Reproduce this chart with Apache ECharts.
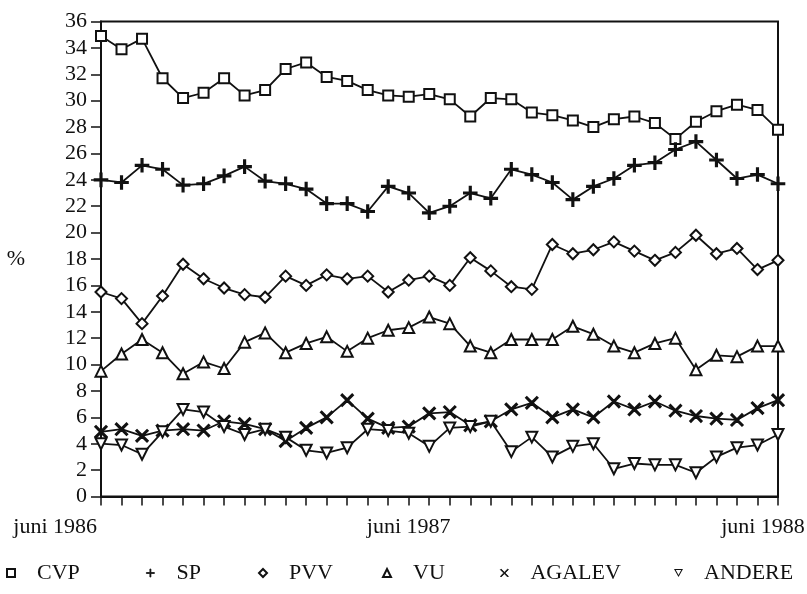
<!DOCTYPE html>
<html>
<head>
<meta charset="utf-8">
<script src="https://cdn.jsdelivr.net/npm/echarts@6/dist/echarts.min.js"></script>
<style>
  html, body { margin: 0; padding: 0; background: #fff; }
  #chart { width: 807px; height: 594px; }
</style>
</head>
<body>
<div id="chart"></div>
<script>
// peilingen juni 1986 - juni 1988 (34 metingen)
const labelIndex = [0, 15, 33];
const labelText = ['juni 1986', 'juni 1987', 'juni 1988'];

const seriesNames = ['CVP', 'SP', 'PVV', 'VU', 'AGALEV', 'ANDERE'];

const cvp = [34.9, 33.9, 34.7, 31.7, 30.2, 30.6, 31.7, 30.4, 30.8, 32.4, 32.9, 31.8,
  31.5, 30.8, 30.4, 30.3, 30.5, 30.1, 28.8, 30.2, 30.1, 29.1, 28.9, 28.5,
  28.0, 28.6, 28.8, 28.3, 27.1, 28.4, 29.2, 29.7, 29.3, 27.8];
const sp = [24.0, 23.8, 25.1, 24.8, 23.6, 23.7, 24.3, 25.0, 23.9, 23.7, 23.3, 22.2,
  22.2, 21.6, 23.5, 23.0, 21.5, 22.0, 23.0, 22.6, 24.8, 24.4, 23.8, 22.5,
  23.5, 24.1, 25.1, 25.3, 26.3, 26.9, 25.5, 24.1, 24.4, 23.7];
const pvv = [15.5, 15.0, 13.1, 15.2, 17.6, 16.5, 15.8, 15.3, 15.1, 16.7, 16.0, 16.8,
  16.5, 16.7, 15.5, 16.4, 16.7, 16.0, 18.1, 17.1, 15.9, 15.7, 19.1, 18.4,
  18.7, 19.3, 18.6, 17.9, 18.5, 19.8, 18.4, 18.8, 17.2, 17.9];
const vu = [9.5, 10.8, 11.9, 10.9, 9.3, 10.2, 9.7, 11.7, 12.4, 10.9, 11.6, 12.1,
  11.0, 12.0, 12.6, 12.8, 13.6, 13.1, 11.4, 10.9, 11.9, 11.9, 11.9, 12.9,
  12.3, 11.4, 10.9, 11.6, 12.0, 9.6, 10.7, 10.6, 11.4, 11.4];
const agalev = [4.9, 5.1, 4.6, 5.0, 5.1, 5.0, 5.7, 5.5, 5.1, 4.2, 5.2, 6.0,
  7.3, 5.9, 5.2, 5.3, 6.3, 6.4, 5.4, 5.7, 6.6, 7.1, 6.0, 6.6,
  6.0, 7.2, 6.6, 7.2, 6.5, 6.1, 5.9, 5.8, 6.7, 7.3];
const andere = [4.0, 3.9, 3.2, 4.9, 6.6, 6.4, 5.3, 4.7, 5.1, 4.5, 3.5, 3.3,
  3.7, 5.1, 5.0, 4.8, 3.8, 5.2, 5.3, 5.7, 3.4, 4.5, 3.0, 3.8,
  4.0, 2.1, 2.5, 2.4, 2.4, 1.8, 3.0, 3.7, 3.9, 4.7];

const values = [cvp, sp, pvv, vu, agalev, andere];

// symbolen (plus en kruis als dunne paden)
const plusPath = 'path://M4.4,0H5.6V4.4H10V5.6H5.6V10H4.4V5.6H0V4.4H4.4Z';
const crossPath = 'path://M0,0.85L0.85,0L5,4.15L9.15,0L10,0.85L5.85,5L10,9.15L9.15,10L5,5.85L0.85,10L0,9.15L4.15,5Z';
// holle omgekeerde driehoek voor de legende
const downTriPath = 'path://M0,0L10,0L5,9Z M2,1.3L5,6.7L8,1.3Z';
const symbols = ['emptyRect', plusPath, 'emptyDiamond', 'emptyTriangle', crossPath, 'emptyTriangle'];
const legendIcons = ['emptyRect', plusPath, 'emptyDiamond', 'emptyTriangle', crossPath, downTriPath];
const legendBorder = [1.5, 0.8, 1.5, 1.5, 0.8, 0];
const symbolSizes = [10, 13, 11, 11, 12, 11];
const symbolRotates = [0, 0, 0, 0, 0, 180];
const legendLeft = [6, 146, 258, 382, 500, 674];

const fontFamily = 'Liberation Serif';
const ink = '#111';

// categorie-as: alleen drie labels
const categories = cvp.map(function (v, i) {
  const k = labelIndex.indexOf(i);
  if (k < 0) return '';
  const item = { value: labelText[k] };
  if (i === 0) item.textStyle = { align: 'right', padding: [0, 4, 0, 0] };
  if (i === cvp.length - 1) item.textStyle = { align: 'center', padding: [0, 30, 0, 0] };
  return item;
});

const chart = echarts.init(document.getElementById('chart'));

chart.setOption({
  animation: false,
  backgroundColor: '#fff',
  grid: {
    left: 101,
    right: 29,
    top: 21.5,
    bottom: 97.5,
    show: true,
    borderColor: ink,
    borderWidth: 2,
    containLabel: false,
    outerBoundsMode: 'none'
  },
  legend: seriesNames.map(function (name, i) {
    return {
      data: [{ name: name, icon: legendIcons[i] }],
      left: legendLeft[i],
      top: 562,
      itemWidth: i === 5 ? 9 : 8,
      itemHeight: i === 5 ? 9 : 8,
      selectedMode: false,
      padding: 0,
      itemStyle: { color: ink, borderColor: ink, borderWidth: legendBorder[i] },
      textStyle: {
        fontFamily: fontFamily,
        fontSize: 22,
        color: ink,
        padding: [0, 0, 0, i === 5 ? 16 : 17]
      }
    };
  }),
  xAxis: {
    type: 'category',
    data: categories,
    boundaryGap: false,
    axisLine: { lineStyle: { color: ink, width: 2 } },
    axisTick: { show: true, interval: 0, length: 9, lineStyle: { color: ink, width: 1.5 } },
    axisLabel: {
      interval: 0,
      margin: 20,
      fontFamily: fontFamily,
      fontSize: 22,
      color: ink
    },
    splitLine: { show: false }
  },
  yAxis: {
    type: 'value',
    min: 0,
    max: 36,
    interval: 2,
    name: '%',
    nameLocation: 'middle',
    nameRotate: 0,
    nameGap: 76,
    nameTextStyle: { fontFamily: fontFamily, fontSize: 22, color: ink },
    axisLine: { show: true, lineStyle: { color: ink, width: 2 } },
    axisTick: { show: true, length: 10, lineStyle: { color: ink, width: 1.5 } },
    axisLabel: {
      margin: 14,
      fontFamily: fontFamily,
      fontSize: 22,
      color: ink
    },
    splitLine: { show: false }
  },
  series: seriesNames.map(function (name, i) {
    return {
      name: name,
      type: 'line',
      data: values[i],
      symbol: symbols[i],
      symbolSize: symbolSizes[i],
      symbolRotate: symbolRotates[i],
      showAllSymbol: true,
      lineStyle: { color: ink, width: 1.8 },
      itemStyle: { color: ink, borderColor: ink, borderWidth: 1.6 },
      emphasis: { disabled: true },
      z: 2 + i
    };
  })
});
</script>
</body>
</html>
